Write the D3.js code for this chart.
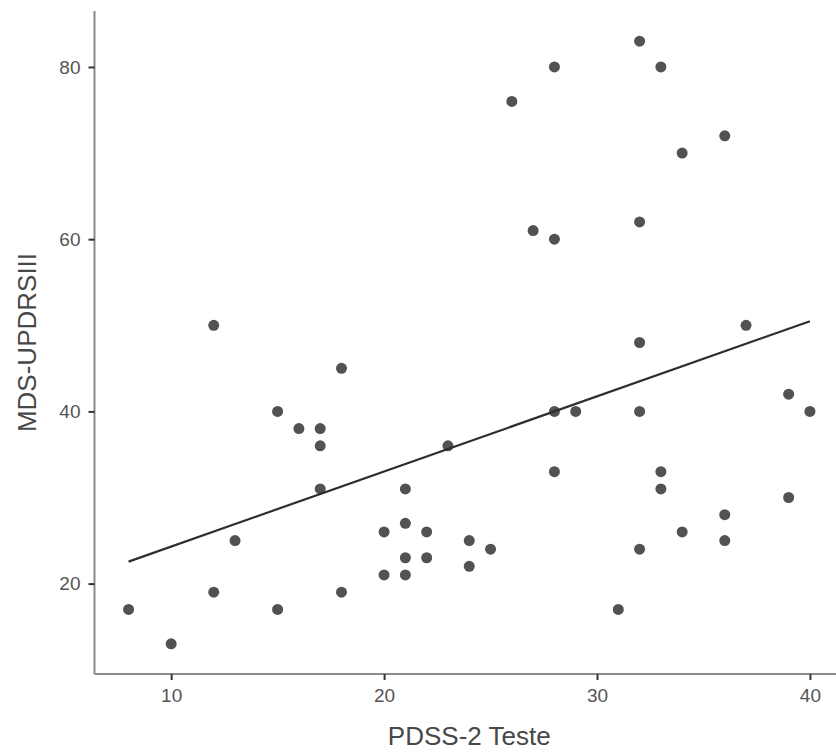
<!DOCTYPE html>
<html>
<head>
<meta charset="utf-8">
<script src="https://cdn.jsdelivr.net/npm/d3@7"></script>
<style>
  html, body { margin: 0; padding: 0; background: #fff; }
  svg { display: block; }
  text { font-family: "Liberation Sans", Arial, sans-serif; }
</style>
</head>
<body>
<svg id="chart" width="836" height="753"></svg>
<script>
// PDSS-2 score per patient
const pdss = [8, 10, 12, 12, 13, 15, 15, 16, 17, 17, 17, 18, 18, 20, 20, 21, 21, 21, 21, 22,
              22, 23, 24, 24, 25, 26, 27, 28, 28, 28, 28, 29, 31, 32, 32, 32, 32, 32, 33, 33,
              33, 34, 34, 36, 36, 36, 37, 39, 39, 40];
// MDS-UPDRS part III score per patient
const updrs = [17, 13, 50, 19, 25, 40, 17, 38, 38, 36, 31, 45, 19, 26, 21, 31, 27, 23, 21, 26,
               23, 36, 25, 22, 24, 76, 61, 80, 60, 40, 33, 40, 17, 83, 62, 48, 40, 24, 80, 33,
               31, 70, 26, 72, 28, 25, 50, 42, 30, 40];
const xTicks = [10, 20, 30, 40];
const yTicks = [20, 40, 60, 80];
const xTitle = "PDSS-2 Teste";
const yTitle = "MDS-UPDRSIII";

const points = pdss.map((x, i) => ({ x, y: updrs[i] }));

const svg = d3.select("#chart");

// panel domains padded 5% beyond the data range
const xExt = d3.extent(pdss), yExt = d3.extent(updrs);
const xPad = (xExt[1] - xExt[0]) * 0.05, yPad = (yExt[1] - yExt[0]) * 0.05;
const x = d3.scaleLinear().domain([xExt[0] - xPad, xExt[1] + xPad]).range([94.5, 844]);
const y = d3.scaleLinear().domain([yExt[0] - yPad, yExt[1] + yPad]).range([674, 11]);

// least-squares fit over the observed x range
const mx = d3.mean(pdss), my = d3.mean(updrs);
const sxy = d3.sum(points, p => (p.x - mx) * (p.y - my));
const sxx = d3.sum(points, p => (p.x - mx) ** 2);
const slope = sxy / sxx, intercept = my - slope * mx;
const fit = xExt.map(v => ({ x: v, y: intercept + slope * v }));

// points
svg.append("g").selectAll("circle").data(points).join("circle")
  .attr("cx", d => x(d.x)).attr("cy", d => y(d.y))
  .attr("r", 5.5).attr("fill", "#525252");

// fitted line
svg.append("path").datum(fit)
  .attr("d", d3.line().x(d => x(d.x)).y(d => y(d.y)))
  .attr("fill", "none").attr("stroke", "#2e2e2e").attr("stroke-width", 2.2);

// axes
const xAxis = svg.append("g").attr("transform", "translate(0,674)")
  .call(d3.axisBottom(x).tickValues(xTicks).tickSize(6).tickPadding(9).tickFormat(d3.format("d")));
const yAxis = svg.append("g").attr("transform", "translate(94.5,0)")
  .call(d3.axisLeft(y).tickValues(yTicks).tickSize(6).tickPadding(8).tickFormat(d3.format("d")));

[xAxis, yAxis].forEach(a => {
  a.select(".domain").attr("stroke", "#8a8a8a").attr("stroke-width", 2);
  a.selectAll(".tick line").attr("stroke", "#333").attr("stroke-width", 2);
  a.selectAll(".tick text").attr("fill", "#555")
    .style("font-size", "19px").style("font-family", "'Liberation Sans', Arial, sans-serif");
});
// plain axis lines without end caps
xAxis.select(".domain").attr("d", `M${x.range()[0]},0H${x.range()[1]}`);
yAxis.select(".domain").attr("d", `M0,${y.range()[0]}V${y.range()[1]}`);

// axis titles
svg.append("text")
  .attr("x", (x.range()[0] + x.range()[1]) / 2).attr("y", 745)
  .attr("text-anchor", "middle").attr("fill", "#484848")
  .style("font-size", "26px").text(xTitle);
svg.append("text")
  .attr("transform", `translate(36,${(y.range()[0] + y.range()[1]) / 2}) rotate(-90)`)
  .attr("text-anchor", "middle").attr("fill", "#484848")
  .style("font-size", "26px").text(yTitle);
</script>
</body>
</html>
